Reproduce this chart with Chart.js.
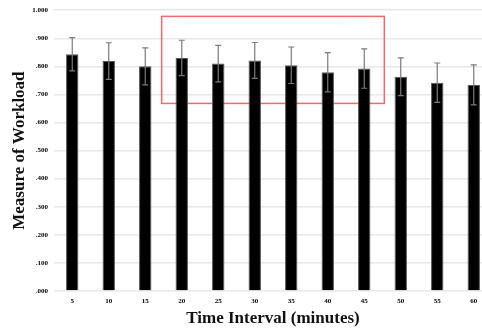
<!DOCTYPE html>
<html>
<head>
<meta charset="utf-8">
<script src="https://cdn.jsdelivr.net/npm/chart.js@4/dist/chart.umd.min.js"></script>
<style>
  html, body { margin: 0; padding: 0; background: white; overflow: hidden; }
  #wrap { position: absolute; left: 0; top: 0; width: 500px; height: 332px; }
</style>
</head>
<body>
<div id="wrap"><canvas id="c" width="500" height="332"></canvas></div>
<script>
// Workload by time interval, bars with +/- error
const intervals = ['5', '10', '15', '20', '25', '30', '35', '40', '45', '50', '55', '60'];
const workload = [0.843, 0.819, 0.800, 0.830, 0.810, 0.821, 0.804, 0.779, 0.792, 0.763, 0.742, 0.734];
const errors = [0.059, 0.065, 0.066, 0.063, 0.065, 0.064, 0.065, 0.070, 0.070, 0.067, 0.070, 0.071];
// highlight box: category index range and value range
const boxX = [2.45, 8.55];
const boxY = [0.668, 0.978];

const serif = '"Liberation Serif", "Times New Roman", serif';

const errorBars = {
    id: 'errorBars',
    afterDatasetsDraw: function (chart) {
        const ctx = chart.ctx;
        const y = chart.scales.y;
        const meta = chart.getDatasetMeta(0);
        ctx.save();
        ctx.strokeStyle = '#7a7a7a';
        ctx.lineWidth = 1.2;
        meta.data.forEach(function (bar, i) {
            const hi = y.getPixelForValue(workload[i] + errors[i]);
            const lo = y.getPixelForValue(workload[i] - errors[i]);
            ctx.beginPath();
            ctx.moveTo(bar.x, hi); ctx.lineTo(bar.x, lo);
            ctx.moveTo(bar.x - 3, hi); ctx.lineTo(bar.x + 3, hi);
            ctx.moveTo(bar.x - 3, lo); ctx.lineTo(bar.x + 3, lo);
            ctx.stroke();
        });
        ctx.restore();
    }
};

const highlight = {
    id: 'highlight',
    beforeDatasetsDraw: function (chart) {
        const ctx = chart.ctx;
        const x = chart.scales.x, y = chart.scales.y;
        const x0 = x.getPixelForValue(boxX[0]), x1 = x.getPixelForValue(boxX[1]);
        const y0 = y.getPixelForValue(boxY[1]), y1 = y.getPixelForValue(boxY[0]);
        ctx.save();
        ctx.strokeStyle = '#f26a6a';
        ctx.lineWidth = 1.5;
        ctx.strokeRect(x0, y0, x1 - x0, y1 - y0);
        ctx.restore();
    }
};

new Chart(document.getElementById('c'), {
    type: 'bar',
    data: {
        labels: intervals,
        datasets: [{
            data: workload,
            backgroundColor: '#000000',
            borderColor: '#555555',
            borderWidth: 1,
            barPercentage: 0.34,
            categoryPercentage: 1.0
        }]
    },
    options: {
        responsive: false,
        animation: false,
        layout: { padding: { top: 10, right: 8, left: 0, bottom: 0 } },
        plugins: { legend: { display: false }, tooltip: { enabled: false } },
        scales: {
            x: {
                grid: { display: false, drawTicks: false },
                border: { display: false },
                ticks: { padding: 6, color: '#000', font: { family: serif, size: 7, weight: 'bold' } },
                title: { display: true, text: 'Time Interval (minutes)', color: '#111',
                    font: { family: serif, size: 17, weight: 'bold' }, padding: { top: 0, bottom: 3 } },
                afterFit: function (s) { s.height = 41; }
            },
            y: {
                min: 0, max: 1,
                grid: { color: '#e8e8e8', lineWidth: 1.5, drawTicks: false },
                border: { display: false },
                ticks: {
                    stepSize: 0.1, padding: 6, color: '#000',
                    font: { family: serif, size: 7, weight: 'bold' },
                    callback: function (v) { return v.toFixed(3).replace(/^0/, ''); }
                },
                title: { display: true, text: 'Measure of Workload', color: '#111',
                    font: { family: serif, size: 17, weight: 'bold' }, padding: { top: 9, bottom: 0 } },
                afterFit: function (s) { s.width = 54; }
            }
        }
    },
    plugins: [highlight, errorBars]
});
</script>
</body>
</html>
